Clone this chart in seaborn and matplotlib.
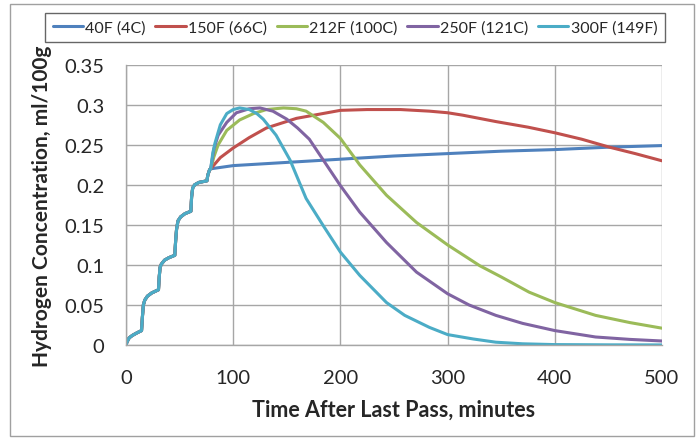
import pandas as pd
import seaborn as sns
import matplotlib.pyplot as plt
from matplotlib.patches import Rectangle

# shared heating / multi-pass staircase (all curves coincide here)
STEP_T = [0, 1, 3, 6, 10, 14.5, 15.3, 16.2, 17.5, 20, 24, 30.3, 31, 31.8, 33, 36, 40, 45.5,
          46.3, 47.2, 48.5, 51, 55, 60.5, 61.2, 62.2, 64, 68, 75.5, 76.3, 78]
STEP_H = [0, 0.004, 0.009, 0.012, 0.015, 0.018, 0.035, 0.05, 0.056, 0.061, 0.065, 0.069, 0.085,
          0.097, 0.101, 0.106, 0.109, 0.112, 0.13, 0.145, 0.155, 0.16, 0.164, 0.167, 0.185,
          0.196, 0.2, 0.203, 0.205, 0.212, 0.219]

T_40F = [79, 100, 150, 200, 250, 300, 350, 400, 450, 500]
H_40F = [0.220, 0.224, 0.228, 0.232, 0.236, 0.239, 0.242, 0.244, 0.247, 0.249]

T_150F = [79, 88, 100, 115, 131, 159, 200, 225, 256, 283, 300, 314, 345, 375, 400, 425, 451, 475, 500]
H_150F = [0.220, 0.234, 0.246, 0.259, 0.271, 0.283, 0.293, 0.294, 0.294, 0.292, 0.290, 0.287,
          0.279, 0.272, 0.265, 0.257, 0.247, 0.239, 0.230]

T_212F = [79, 82, 86, 94, 106, 119, 131, 147, 159, 168, 184, 200, 218, 243, 271, 300, 330, 350,
          376, 400, 438, 470, 500]
H_212F = [0.220, 0.235, 0.250, 0.268, 0.281, 0.289, 0.294, 0.296, 0.295, 0.292, 0.278, 0.258,
          0.225, 0.187, 0.153, 0.125, 0.099, 0.085, 0.066, 0.053, 0.037, 0.028, 0.021]

T_250F = [79, 82, 86, 94, 103, 115, 125, 137, 150, 160, 171, 184, 200, 218, 243, 271, 300, 320,
          345, 370, 400, 438, 470, 500]
H_250F = [0.220, 0.245, 0.262, 0.278, 0.290, 0.295, 0.296, 0.292, 0.282, 0.271, 0.257, 0.231,
          0.199, 0.166, 0.128, 0.091, 0.064, 0.050, 0.037, 0.027, 0.018, 0.010, 0.007, 0.005]

T_300F = [79, 81, 83, 88, 94, 100, 106, 115, 122, 128, 140, 153, 168, 184, 200, 218, 243, 260,
          283, 300, 324, 345, 370, 400, 450, 500]
H_300F = [0.220, 0.240, 0.252, 0.275, 0.289, 0.294, 0.296, 0.294, 0.289, 0.282, 0.262, 0.231,
          0.183, 0.149, 0.116, 0.087, 0.053, 0.037, 0.022, 0.013, 0.0075, 0.0035, 0.0015,
          0.0005, 0.0002, 0.0001]

LABELS = ["40F (4C)", "150F (66C)", "212F (100C)", "250F (121C)", "300F (149F)"]
COLORS = ["#4F81BD", "#C0504D", "#9BBB59", "#8064A2", "#4BACC6"]
SERIES = [(T_40F, H_40F), (T_150F, H_150F), (T_212F, H_212F), (T_250F, H_250F), (T_300F, H_300F)]

rows = []
for label, (t, h) in zip(LABELS, SERIES):
    for x, y in zip(STEP_T + t, STEP_H + h):
        rows.append({"time": x, "conc": y, "series": label})
DF = pd.DataFrame(rows)

sns.set_style("white")
plt.rcParams["font.family"] = ["Lato", "DejaVu Sans"]

fig = plt.figure(figsize=(6.99, 4.39), dpi=100)
ax = fig.add_axes([126 / 699, 1 - 346 / 439, (662 - 126) / 699, (346 - 65.7) / 439])

sns.lineplot(data=DF, x="time", y="conc", hue="series", hue_order=LABELS, palette=COLORS,
             estimator=None, sort=False, linewidth=2.2, ax=ax, legend=True)

ax.set_xlim(0, 500)
ax.set_ylim(0, 0.35)
ax.set_xticks([0, 100, 200, 300, 400, 500])
ax.set_yticks([0, 0.05, 0.1, 0.15, 0.2, 0.25, 0.3, 0.35])
ax.set_yticklabels(["0", "0.05", "0.1", "0.15", "0.2", "0.25", "0.3", "0.35"])
ax.grid(True, color="#A6A6A6", linewidth=1)
ax.set_axisbelow(True)
for s in ["top", "right"]:
    ax.spines[s].set_visible(False)
for s in ["left", "bottom"]:
    ax.spines[s].set_color("#A6A6A6")
    ax.spines[s].set_linewidth(1)
ax.tick_params(axis="both", direction="out", length=5.5, color="#A6A6A6", labelsize=14.5)
ax.tick_params(axis="y", pad=10)
ax.tick_params(axis="x", pad=12)
ax.set_xlabel("Time After Last Pass, minutes", fontsize=15.5, fontweight="bold", labelpad=9)
ax.set_ylabel("Hydrogen Concentration, ml/100g", fontsize=15, fontweight="bold", labelpad=9)

handles, labels = ax.get_legend_handles_labels()
ax.get_legend().remove()
leg = fig.legend(handles, labels, loc="center", bbox_to_anchor=(355 / 699, 1 - 28.5 / 439), ncol=5,
                 frameon=True, fancybox=False, fontsize=11.5, handlelength=1.9, handletextpad=0.15,
                 columnspacing=0.6, borderpad=0.45)
leg.get_frame().set_edgecolor("#404040")
leg.get_frame().set_linewidth(1)

fig.patches.append(Rectangle((10 / 699, 2 / 439), 684 / 699, 432 / 439, transform=fig.transFigure,
                             fill=False, edgecolor="#A0A0A0", linewidth=1))

fig.savefig("out.png", dpi=100)
